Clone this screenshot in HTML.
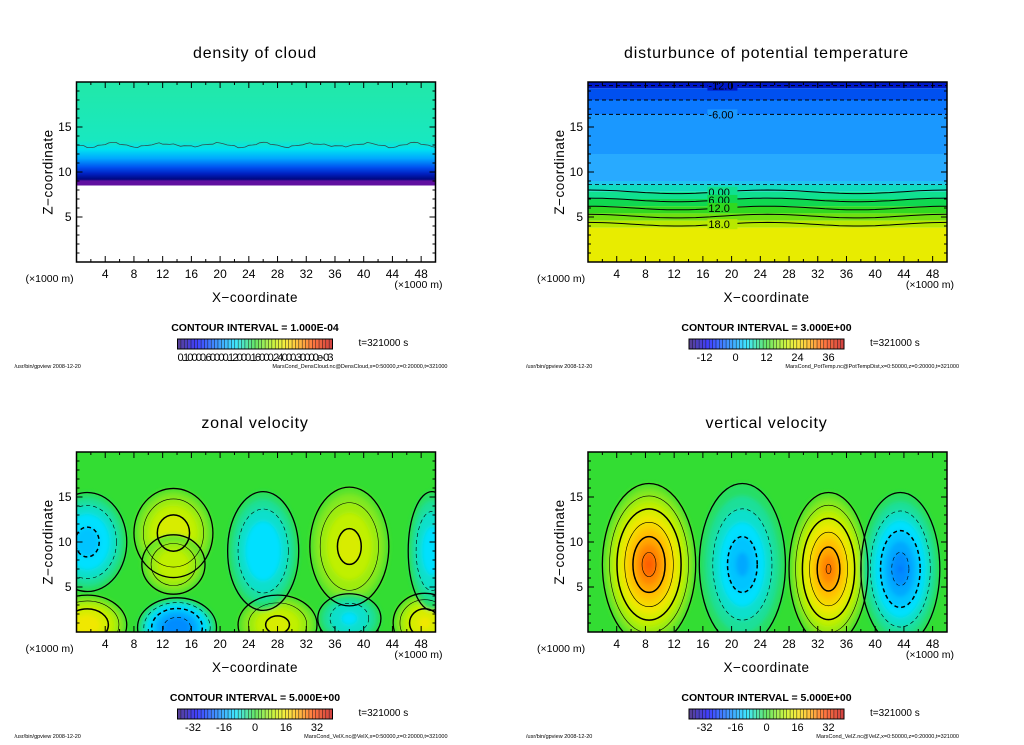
<!DOCTYPE html>
<html><head><meta charset="utf-8">
<style>
body{margin:0;background:#fff;width:1024px;height:740px;overflow:hidden}
svg text{font-family:"Liberation Sans","DejaVu Sans",sans-serif;fill:#000}
</style></head>
<body>
<svg id="root" width="1024" height="740" xmlns="http://www.w3.org/2000/svg"></svg>
<script>
const xTicks=[4,8,12,16,20,24,28,32,36,40,44,48];
const zTicks=[5,10,15];
const panelTitles=["density of cloud","disturbunce of potential temperature","zonal velocity","vertical velocity"];
const intervals=["CONTOUR INTERVAL = 1.000E-04","CONTOUR INTERVAL = 3.000E+00","CONTOUR INTERVAL = 5.000E+00","CONTOUR INTERVAL = 5.000E+00"];
const cbLabelsTemp=["-12","0","12","24","36"];
const cbLabelsVel=["-32","-16","0","16","32"];
const footFiles=["MarsCond_DensCloud.nc@DensCloud,x=0:50000,z=0:20000,t=321000","MarsCond_PotTemp.nc@PotTempDist,x=0:50000,z=0:20000,t=321000","MarsCond_VelX.nc@VelX,x=0:50000,z=0:20000,t=321000","MarsCond_VelZ.nc@VelZ,x=0:50000,z=0:20000,t=321000"];
const tempBandTop=[20,19.3,18,16.4,12,9,8.6,7.8,7,6.2,5.4,4.6,3.8];
const tempBandBot=[19.3,18,16.4,12,9,8.6,7.8,7,6.2,5.4,4.6,3.8,0];
const tempBandCol=["#0018c8","#0050f0","#0a78ff","#1a98ff","#28aaff","#20c4f0","#10dcc0","#10e090","#10d850","#30d820","#70e010","#b8e800","#e8ec00"];
const tempSolid=[7.8,6.9,6.0,5.1,4.2];
const tempDashed=[8.6,16.4,18,19.6];
const cloudZ=[20,13.5,12.5,11.5,10.5,9.8,9.2,9.0,8.5];
const cloudCol=["#22e8a8","#18e8c0","#00e0f0","#00a8ff","#0050f0","#0020c0","#000880","#6010a0","#6010a0"];
const zonX=[13.5,13.5,38,1.5,28,48.5,1.5,26,49.5,14,38];
const zonZ=[11,7.5,9.5,0.8,0.8,1,10,9,9,0.5,1.5];
const zonRX=[5,4,5,5,5,4,5,4.5,3,5,4];
const zonRZ=[4.5,3,6,3,3,3,5,6,6,3,2.5];
const zonA=[12,10,11,14,11,13,-11,-10,-9,-17,-8];
const verX=[8.5,33.5,21.5,43.5];
const verZ=[7.5,7,7.5,7];
const verRX=[6.5,5.5,6,5.5];
const verRZ=[9,8.5,9,8.5];
const verA=[28,26,-14,-18];

const NS="http://www.w3.org/2000/svg";
const root=document.getElementById('root');
function el(tag,attrs,parent){const e=document.createElementNS(NS,tag);for(const k in attrs)e.setAttribute(k,attrs[k]);(parent||root).appendChild(e);return e;}
function txt(s,x,y,size,anchor,parent,extra){const t=el('text',Object.assign({x:x,y:y,'font-size':size,'text-anchor':anchor||'start'},extra||{}),parent);t.textContent=s;return t;}
function lerpCol(a,b,t){const pa=[1,3,5].map(i=>parseInt(a.substr(i,2),16)),pb=[1,3,5].map(i=>parseInt(b.substr(i,2),16));return 'rgb('+pa.map((v,i)=>Math.round(v+(pb[i]-v)*t)).join(',')+')';}
const vStops=[-40,-30,-20,-10,0,5,10,15,20,25,30,40];
const vCols=["#20006a","#0000ff","#0070ff","#00e0ff","#33dd33","#80e820","#c0f000","#f0e800","#ffc000","#ff8800","#ff4800","#c00000"];
function vcol(v){if(v<=vStops[0])return vCols[0];for(let i=1;i<vStops.length;i++){if(v<=vStops[i])return lerpCol(vCols[i-1],vCols[i],(v-vStops[i-1])/(vStops[i]-vStops[i-1]));}return vCols[vCols.length-1];}

const PW=359,PH=180;
const panels=[{x0:76.5,y0:82},{x0:588,y0:82},{x0:76.5,y0:452},{x0:588,y0:452}];
let defs=el('defs',{});
let f=el('filter',{id:'blur',x:'-10%',y:'-10%',width:'120%',height:'120%'},defs);el('feGaussianBlur',{stdDeviation:'2'},f);

panels.forEach((p,i)=>{
  const g=el('g',{});
  
  
  const sx=v=>p.x0+v/50*PW, sz=v=>p.y0+PH-v/20*PH;
  const cp=el('clipPath',{id:'clip'+i},defs);el('rect',{x:p.x0,y:p.y0,width:PW,height:PH},cp);
  const plot=el('g',{'clip-path':'url(#clip'+i+')'},g);
  
  
  if(i===0){
    const lg=el('linearGradient',{id:'cg',x1:0,y1:sz(20),x2:0,y2:sz(8.5),gradientUnits:'userSpaceOnUse'},defs);
    cloudZ.forEach((z,k)=>el('stop',{offset:((20-z)/11.5).toFixed(3),'stop-color':cloudCol[k]},lg));
    const r=el('rect',{x:p.x0,y:sz(20),width:PW,height:sz(8.5)-sz(20),fill:'url(#cg)'},plot);
    
    
    let d='M'+p.x0+' '+sz(13);for(let x=0;x<=50;x+=0.5){d+=' L'+sx(x).toFixed(1)+' '+(sz(13-0.3*Math.sin(x*0.9)*((x*7)%3>1?1:0.3))).toFixed(1);}
    const c=el('path',{d:d,fill:'none',stroke:'#305050','stroke-width':0.8},plot);
    
    
  } else if(i===1){
    tempBandTop.forEach((t,k)=>{const r=el('rect',{x:p.x0,y:sz(t),width:PW,height:sz(tempBandBot[k])-sz(t),fill:tempBandCol[k]},plot);
      
      });
    tempSolid.forEach(z=>{let d='';for(let x=0;x<=50;x+=1){d+=(x?' L':'M')+sx(x).toFixed(1)+' '+(sz(z+0.2*Math.cos(x/50*Math.PI*4))).toFixed(1);}
      const l=el('path',{d:d,fill:'none',stroke:'#000','stroke-width':1},plot);
      
      });
    tempDashed.forEach(z=>{const l=el('line',{x1:p.x0,x2:p.x0+PW,y1:sz(z),y2:sz(z),stroke:'#000','stroke-width':z>9?1:0.7,'stroke-dasharray':'4,3'},plot);
      
      });
    [["-12.0",19.6],["-6.00",16.4],["0.00",7.8],["6.00",6.9],["12.0",6.0],["18.0",4.2]].forEach(a=>{
      el('rect',{x:sx(19)-17,y:sz(a[1])-5,width:30,height:10,fill:tempBandCol[Math.max(0,tempBandTop.findIndex((t,k)=>a[1]<=t&&a[1]>tempBandBot[k]))]},plot);
      txt(a[0],sx(19)-16,sz(a[1])+4,11,'start',plot);});
  } else {
    const X=i===2?zonX:verX,Z=i===2?zonZ:verZ,RX=i===2?zonRX:verRX,RZ=i===2?zonRZ:verRZ,A=i===2?zonA:verA;
    const pw=i===2?0.5:0.85, fac=i===2?1.1:1.0;
    el('rect',{x:p.x0,y:p.y0,width:PW,height:PH,fill:vcol(0)},plot);
    const fills=el('g',{filter:'url(#blur)'},plot);
    const lines=el('g',{},plot);
    X.forEach((x,k)=>{
      const a=A[k],sgn=Math.sign(a);
      for(let L=0;L<Math.abs(a);L+=2.5){
        const s=Math.pow(1-L/Math.abs(a),pw)*fac;
        const e=el('ellipse',{cx:sx(x),cy:sz(Z[k]),rx:RX[k]*s/50*PW,ry:RZ[k]*s/20*PH,fill:vcol(sgn*(L+2.5))},fills);
        
        
      }
      for(let L=0;L<Math.abs(a);L+=5){
        const s=Math.pow(1-L/Math.abs(a),pw)*fac;
        const e=el('ellipse',{cx:sx(x),cy:sz(Z[k]),rx:RX[k]*s/50*PW,ry:RZ[k]*s/20*PH,fill:'none',stroke:'#000','stroke-width':L===0?1.3:(L%10===0?1.5:0.6),'stroke-dasharray':(a<0&&L>0)?'4,3':'none'},lines);
        
        
      }
    });
  }
  const fr=el('rect',{x:p.x0,y:p.y0,width:PW,height:PH,fill:'none',stroke:'#000','stroke-width':1.5},g);
  
  
  for(let x=2;x<50;x+=2){const L=x%4===0?6:3;el('line',{x1:sx(x),x2:sx(x),y1:p.y0+PH,y2:p.y0+PH-L,stroke:'#000'},g);el('line',{x1:sx(x),x2:sx(x),y1:p.y0,y2:p.y0+L,stroke:'#000'},g);}
  for(let z=1;z<20;z++){const L=z%5===0?6:3;el('line',{x1:p.x0,x2:p.x0+L,y1:sz(z),y2:sz(z),stroke:'#000'},g);el('line',{x1:p.x0+PW,x2:p.x0+PW-L,y1:sz(z),y2:sz(z),stroke:'#000'},g);}
  xTicks.forEach(v=>{const t=txt(String(v),sx(v),p.y0+PH+16,12,'middle',g);});
  zTicks.forEach(v=>{const t=txt(String(v),p.x0-5,sz(v)+4,12,'end',g);});
  const cx=p.x0+PW/2-1;
  const tt=txt(panelTitles[i],cx,p.y0-24,16,'middle',g,{'letter-spacing':'0.8'});
  
  
  txt('(×1000 m)',p.x0-51,p.y0+PH+20,10.5,'start',g);
  txt('(×1000 m)',p.x0+PW+7,p.y0+PH+26,10.5,'end',g);
  const xl=txt('X−coordinate',cx,p.y0+PH+40,13.5,'middle',g,{'letter-spacing':'0.5'});
  
  const zl=txt('Z−coordinate',0,0,13.5,'middle',g,{'letter-spacing':'0.5',transform:'translate('+(p.x0-24)+','+(p.y0+PH/2)+') rotate(-90)'});
  
  txt(intervals[i],cx,p.y0+PH+69,10.5,'middle',g,{'font-weight':'bold'});
  const cbx=p.x0+101,cby=p.y0+PH+77,cbw=155,n=46;
  const cb=el('g',{},g);
  for(let k=0;k<n;k++){const v=-40+80*(k+0.5)/n;el('rect',{x:cbx+k*cbw/n,y:cby,width:cbw/n+0.3,height:10,fill:vcol(v),opacity:0.75},cb);el('line',{x1:cbx+k*cbw/n,x2:cbx+k*cbw/n,y1:cby,y2:cby+10,stroke:'#222','stroke-width':0.5},cb);}
  el('rect',{x:cbx,y:cby,width:cbw,height:10,fill:'none',stroke:'#000'},cb);
  if(i===0){txt('0.10000.60000.12000.16000.24000.30000e-03',cbx+78,cby+22,11,'middle',g,{textLength:156});}
  else{const labs=i===1?cbLabelsTemp:cbLabelsVel;const vals=i===1?[-12,0,12,24,36]:[-32,-16,0,16,32];
    labs.forEach((l,k)=>{const fx=i===1?(vals[k]+18)/60:(vals[k]+40)/80;txt(l,cbx+fx*cbw,cby+22,11,'middle',g);});}
  txt('t=321000 s',p.x0+282,cby+7,10,'start',g,{fill:'#555'});
  txt('/usr/bin/gpview   2008-12-20',p.x0-62,p.y0+PH+106,5.5,'start',g);
  txt(footFiles[i],p.x0+PW+12,p.y0+PH+106,5.5,'end',g);
});
</script>
</body></html>
